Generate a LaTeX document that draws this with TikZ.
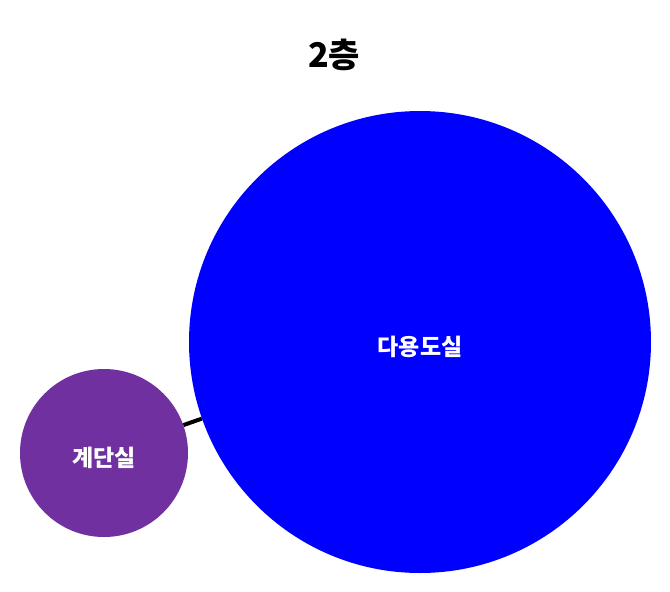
\documentclass[tikz,border=0pt]{standalone}
\usepackage{fontspec}
\usepackage{tikz}
\usepackage{xcolor}
\usetikzlibrary{
    calc,
    positioning
}
\newfontfamily\kr{Noto Sans CJK KR}
\definecolor{roomblue}{RGB}{0,0,255}
\definecolor{stairpurple}{RGB}{112,48,160}

\begin{document}
\begin{tikzpicture}[x=1pt, y=-1pt,
        room/.style={circle, inner sep=0pt},
        roomname/.style={text=white, yshift=-5pt, font=\kr\bfseries\fontsize{23}{26}\selectfont},
        link/.style={line width=4pt, black}
    ]
                        \useasboundingbox (0, 0) rectangle (670, 592);
                        \node[font=\kr\bfseries\fontsize{34}{38}\selectfont] (title) at (334, 55) {2층};
                        \node[room, fill=roomblue, minimum size=462pt,
                            label={[roomname]center:다용도실}] (hall) at (420, 342) {};
                        \node[room, fill=stairpurple, minimum size=168pt,
                            label={[roomname]center:계단실}] (stair) at (104, 453) {};
                        \draw[link] (stair) -- (hall);
                    \end{tikzpicture}
\end{document}
